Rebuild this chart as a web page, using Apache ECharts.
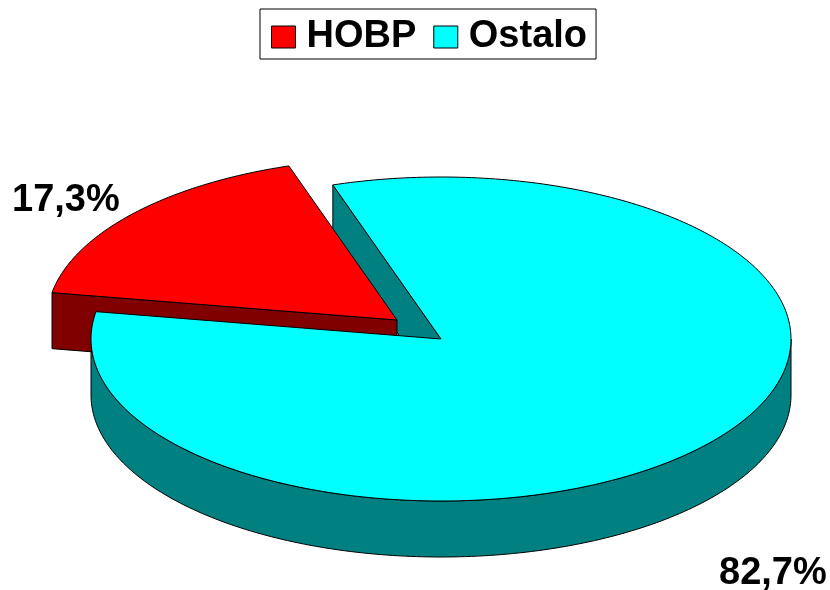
<!DOCTYPE html>
<html>
<head>
<meta charset="utf-8">
<style>html,body{margin:0;padding:0;background:#fff}#c{width:830px;height:590px}</style>
<script src="https://cdn.jsdelivr.net/npm/echarts@6/dist/echarts.min.js"></script>
</head>
<body>
<div id="c"></div>
<script>
const categories = ['HOBP', 'Ostalo'];
const values = [17.3, 82.7];
const valueLabels = ['17,3%', '82,7%'];
const topColors = ['#ff0000', '#00ffff'];
const sideColors = ['#800000', '#008080'];

const total = values[0] + values[1];
const CX = 441, CY = 339, RX = 350, RY = 162, DEPTH = 56;
const EXPLODE = [[-44, -19], [0, 0]];
const START = 108;           // math degrees; slices run clockwise from here, Ostalo first
const LABEL_POS = [[12, 201], [719, 574]];

function pt(c, deg, dy) {
  const t = deg * Math.PI / 180;
  return [c[0] + RX * Math.cos(t), c[1] - RY * Math.sin(t) + (dy || 0)];
}
function arc(c, from, to, dy) {
  const pts = [], n = Math.max(2, Math.ceil(Math.abs(to - from)));
  for (let i = 0; i <= n; i++) pts.push(pt(c, from + (to - from) * i / n, dy));
  return pts;
}
const line = { stroke: '#000', lineWidth: 1 };
function poly(points, fill, z2) {
  return { type: 'polygon', z2: z2, shape: { points: points }, style: Object.assign({ fill: fill }, line) };
}
function label(i) {
  return { type: 'text', z2: 10, x: LABEL_POS[i][0], y: LABEL_POS[i][1],
    style: { text: valueLabels[i], fill: '#000', font: 'bold 38px "Liberation Sans", Arial, sans-serif',
      textAlign: 'left', textVerticalAlign: 'middle' } };
}

function renderSlice(i) {
  return function (params, api) {
    const sweep = api.value(0) / total * 360;
    const c = [CX + EXPLODE[i][0], CY + EXPLODE[i][1]];
    const children = [];
    if (i === 1) {
      // Ostalo: clockwise from START
      const from = START, to = START - sweep;
      const bottom = arc(c, -180, 0, DEPTH).concat(arc(c, 0, -180, 0));
      children.push(poly(bottom, sideColors[1], 1));
      const rim = pt(c, from);
      children.push(poly([rim, c, [c[0], c[1] + DEPTH], [rim[0], rim[1] + DEPTH]], sideColors[1], 1));
      children.push(poly(arc(c, from, to).concat([c]), topColors[1], 5));
    } else {
      // HOBP: the slice that closes the circle back to START
      const from = START + sweep, to = START;
      const rim = pt(c, from);
      children.push(poly([rim, c, [c[0], c[1] + DEPTH], [rim[0], rim[1] + DEPTH]], sideColors[0], 3));
      children.push(poly(arc(c, from, to).concat([c]), topColors[0], 3));
    }
    children.push(label(i));
    return { type: 'group', children: children };
  };
}

const chart = echarts.init(document.getElementById('c'), null, { renderer: 'canvas' });
chart.setOption({
  animation: false,
  backgroundColor: '#fff',
  legend: {
    left: 260, top: 9,
    padding: [9, 9, 3, 11],
    data: categories,
    icon: 'rect',
    itemWidth: 24, itemHeight: 22, itemGap: 17,
    backgroundColor: '#fff',
    borderColor: '#000', borderWidth: 1,
    selectedMode: false,
    itemStyle: { borderColor: '#000', borderWidth: 1 },
    textStyle: { color: '#000', fontFamily: '"Liberation Sans", Arial, sans-serif', fontWeight: 'bold', fontSize: 38, padding: [0, 0, 0, 6] }
  },
  series: categories.map((name, i) => ({
    type: 'custom',
    name: name,
    coordinateSystem: 'none',
    silent: true,
    itemStyle: { color: topColors[i] },
    data: [values[i]],
    renderItem: renderSlice(i)
  }))
});
</script>
</body>
</html>
